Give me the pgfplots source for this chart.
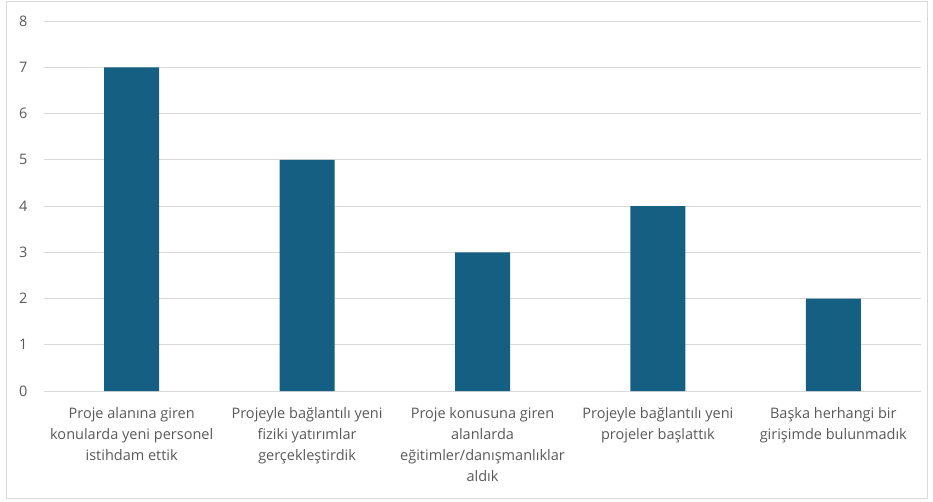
\documentclass[border=0pt]{standalone}
\usepackage{fontspec}
\setmainfont{Open Sans}
\usepackage{pgfplots}
\pgfplotsset{compat=1.18}
\definecolor{barblue}{HTML}{156082}
\definecolor{gridgray}{HTML}{D9D9D9}
\definecolor{textgray}{HTML}{595959}
\begin{document}
\begin{tikzpicture}
\useasboundingbox (-44pt,-110pt) rectangle (889pt,391pt);
\draw[gridgray, line width=1pt] (-37pt,-107pt) rectangle (883pt,389pt);
\begin{axis}[
  at={(0pt,0pt)}, anchor=south west,
  scale only axis,
  width=877pt, height=370pt,
  xmin=-0.5, xmax=4.5,
  ymin=0, ymax=8,
  ytick={0,1,...,8},
  xtick=data,
  xticklabels={
    {Proje alanına giren\\konularda yeni personel\\istihdam ettik},
    {Projeyle bağlantılı yeni\\fiziki yatırımlar\\gerçekleştirdik},
    {Proje konusuna giren\\alanlarda\\eğitimler/danışmanlıklar\\aldık},
    {Projeyle bağlantılı yeni\\projeler başlattık},
    {Başka herhangi bir\\girişimde bulunmadık}},
  xticklabel style={align=center, anchor=north, yshift=-13pt, font=\fontsize{14.5}{21}\selectfont, text=textgray},
  yticklabel style={font=\fontsize{14.5}{17}\selectfont, text=textgray, xshift=-13pt},
  /pgf/number format/assume math mode=true,
  axis x line*=bottom,
  axis y line*=left,
  y axis line style={draw=none},
  x axis line style={gridgray, line width=1pt},
  ymajorgrids,
  grid style={gridgray, line width=1pt},
  major tick length=0pt,
  tick style={draw=none},
  ybar, bar width=55pt,
]
\addplot[fill=barblue, draw=none] coordinates {(0,7) (1,5) (2,3) (3,4) (4,2)};
\end{axis}
\end{tikzpicture}
\end{document}
